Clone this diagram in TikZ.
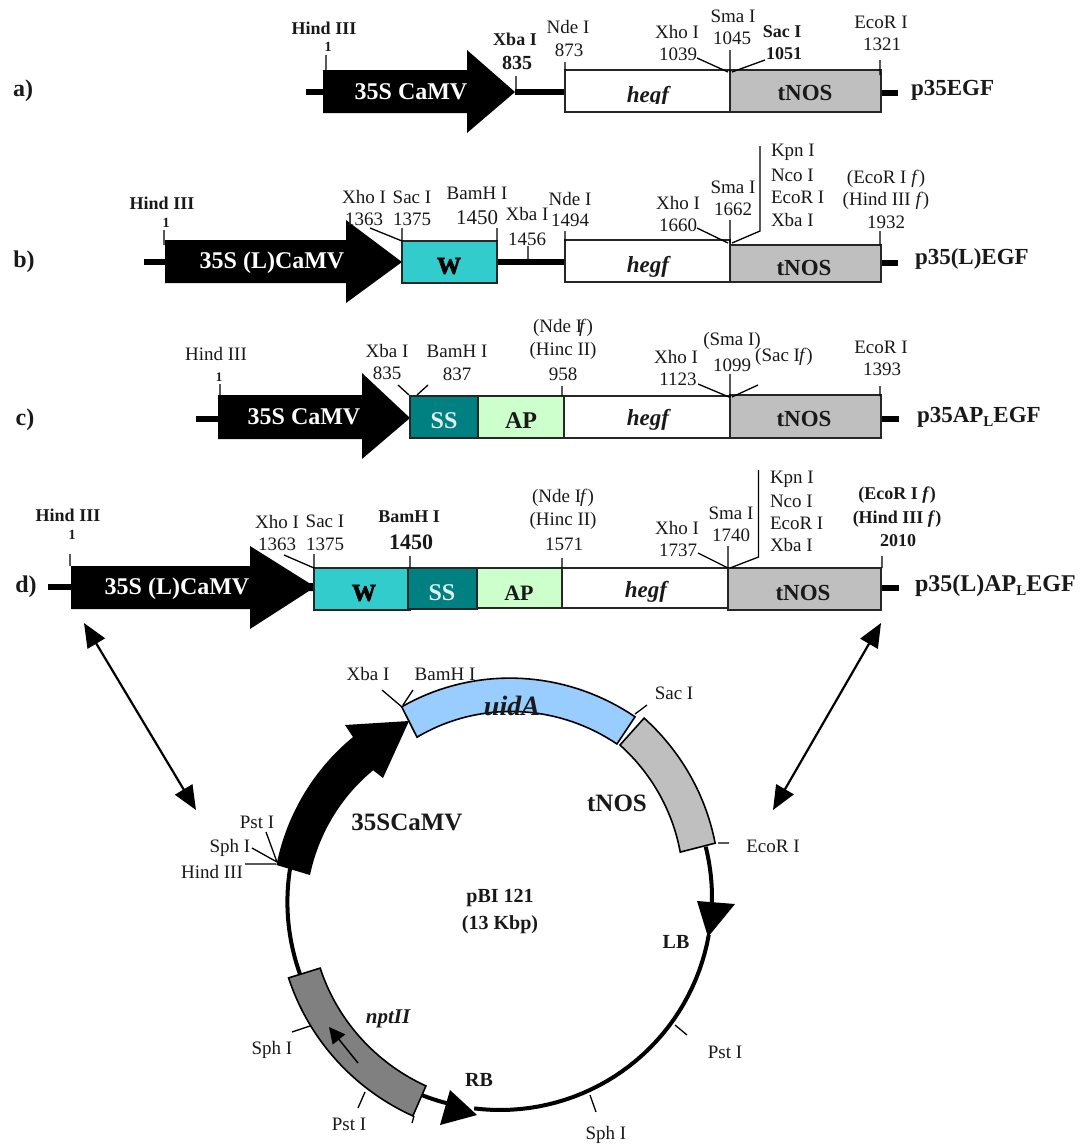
\documentclass[tikz,border=0pt]{standalone}
\usepackage{fontspec}
\setmainfont{Liberation Serif}
\newfontfamily\wfont[FakeBold=3]{Liberation Serif Bold}
\usetikzlibrary{arrows.meta}
\definecolor{wteal}{HTML}{33CCCC}
\definecolor{ssteal}{HTML}{008080}
\definecolor{apgreen}{HTML}{CCFFCC}
\definecolor{nosgrey}{HTML}{BFBFBF}
\definecolor{uidblue}{HTML}{99CCFF}
\definecolor{nptgrey}{HTML}{808080}
\newcounter{labc}
\newcommand{\lab}[4]{\stepcounter{labc}\node[txt] (L\arabic{labc}) at (#1,#2) {\fontsize{#3}{#3}\selectfont #4};}
\newcommand{\labb}[4]{\lab{#1}{#2}{#3}{\bfseries #4}}
\newcommand{\labi}[4]{\lab{#1}{#2}{#3}{\bfseries\itshape #4}}
\newcommand{\labl}[4]{\stepcounter{labc}\node[txt,anchor=west] (L\arabic{labc}) at (#1,#2) {\fontsize{#3}{#3}\selectfont\bfseries #4};}
\newcommand{\labr}[3]{\stepcounter{labc}\node[txt,anchor=west] (L\arabic{labc}) at (#1,#2) {\fontsize{19}{19}\selectfont #3};}
\newcommand{\hegf}[3]{\begin{scope}\clip (#1-40,#2-20) rectangle (#1+40,#3);\labi{#1}{#2}{23}{hegf}\end{scope}}
\newcommand{\sub}[1]{\raisebox{-4pt}{\fontsize{15}{15}\selectfont #1}}
% arcs round the plasmid centre: angle from, angle to, radius from, radius to
\newcommand{\arcpts}[4]{plot[domain=#1:#2,samples=36] ({500+(#3+(#4-#3)*(\x-(#1))/((#2)-(#1)))*cos(\x)},{898+(#3+(#4-#3)*(\x-(#1))/((#2)-(#1)))*sin(\x)})}
\newcommand{\arcto}[4]{-- plot[domain=#1:#2,samples=36] ({500+(#3+(#4-#3)*(\x-(#1))/((#2)-(#1)))*cos(\x)},{898+(#3+(#4-#3)*(\x-(#1))/((#2)-(#1)))*sin(\x)})}
\tikzset{
  txt/.style={inner sep=0pt,outer sep=0pt,anchor=center,text=black!90},
  tick/.style={draw=black,line width=1.3pt},
  dna/.style={draw=black,line width=6pt},
  gbox/.style={draw=black!85,line width=1.6pt},
  ring/.style={draw=black,line width=4pt},
  dbl/.style={draw=black,line width=2.2pt,{Triangle[length=24pt,width=20pt]}-{Triangle[length=24pt,width=20pt]}}
}
\begin{document}
\begin{tikzpicture}[x=1pt,y=-1pt]
\useasboundingbox (0,0) rectangle (1084,1144);
% ---------- row a
\draw[dna] (306,92) -- (323,92) (515,92) -- (565,92) (881,93) -- (898,93);
\fill[black] (323,70) -- (467,70) -- (467,50) -- (515,92) -- (467,133) -- (467,113) -- (323,113) -- cycle;
\draw[gbox,fill=white] (565,70) rectangle (730,112);
\draw[gbox,fill=nosgrey] (730,70) rectangle (881,112);
\draw[tick] (326,55) -- (326,70) (516,76) -- (516,92) (565,62) -- (565,70)
 (697,58) -- (728,72) (730,50) -- (730,72) (765,60) -- (732,72) (880,60) -- (880,75);
\labb{23}{91}{24}{a)}
\labb{324}{28}{18}{Hind III}
\labb{328}{47}{14}{1}
\labb{515}{39}{18}{Xba I}
\labb{517}{63}{20}{835}
\lab{568}{27}{19}{Nde I}
\lab{569}{50}{19}{873}
\lab{677}{32}{19}{Xho I}
\lab{678}{54}{19}{1039}
\lab{733}{16}{19}{Sma I}
\lab{732}{38}{19}{1045}
\labb{782}{32}{18}{Sac I}
\labb{784}{54}{18}{1051}
\lab{881}{22}{19}{EcoR I}
\lab{882}{44}{19}{1321}
\lab{411}{92}{24}{\bfseries\color{white}35S CaMV}
\hegf{648}{97}{103}
\labb{805}{93}{23}{tNOS}
\labl{911}{90}{23}{p35EGF}
% ---------- row b
\draw[dna] (144,262) -- (165,262) (497,262) -- (565,262) (881,263) -- (898,263);
\fill[black] (165,240) -- (346,240) -- (346,220) -- (402,262) -- (346,303) -- (346,283) -- (165,283) -- cycle;
\draw[gbox,fill=wteal] (402,241) rectangle (497,283);
\draw[gbox,fill=white] (565,240) rectangle (730,282);
\draw[gbox,fill=nosgrey] (730,245) rectangle (881,282);
\draw[tick] (164,230) -- (164,245) (370,228) -- (402,241) (402,228) -- (402,241) (497,228) -- (497,241)
 (528,246) -- (528,262) (565,231) -- (565,241) (697,228) -- (728,243) (730,220) -- (730,243)
 (732,243) -- (760,231) -- (760,146) (880,231) -- (880,245);
\labb{24}{262}{24}{b)}
\labb{162}{203}{18}{Hind III}
\labb{166}{223}{14}{1}
\lab{364}{197}{19}{Xho I}
\lab{364}{219}{19}{1363}
\lab{412}{197}{19}{Sac I}
\lab{412}{219}{19}{1375}
\lab{477}{193}{19}{BamH I}
\lab{477}{218}{21}{1450}
\lab{527}{214}{19}{Xba I}
\lab{527}{239}{19}{1456}
\lab{570}{199}{19}{Nde I}
\lab{570}{220}{19}{1494}
\lab{678}{203}{19}{Xho I}
\lab{678}{225}{19}{1660}
\lab{733}{187}{19}{Sma I}
\lab{733}{209}{19}{1662}
\labr{771}{152}{Kpn I}
\labr{771}{175}{Nco I}
\labr{771}{197}{EcoR I}
\labr{771}{220}{Xba I}
\lab{886}{179}{19}{(EcoR I \textit{f})}
\lab{886}{201}{19}{(Hind III \textit{f})}
\lab{886}{222}{19}{1932}
\lab{272}{263}{24}{\bfseries\color{white}35S (L)CaMV}
\stepcounter{labc}\node[txt,text=black] (Wb) at (449,266) {\fontsize{24}{24}\selectfont\wfont W};
\hegf{648}{267}{277}
\begin{scope}\clip (760,245) rectangle (850,275);\labb{804}{268}{23}{tNOS}\end{scope}
\labl{915}{259}{23}{p35(L)EGF}
% ---------- row c
\draw[dna] (196,419) -- (218,419) (881,419) -- (899,419);
\fill[black] (218,395) -- (362,395) -- (362,373) -- (410,418) -- (362,459) -- (362,439) -- (218,439) -- cycle;
\draw[gbox,fill=ssteal] (410,396) rectangle (478,438);
\draw[gbox,fill=apgreen] (478,396) rectangle (564,438);
\draw[gbox,fill=white] (564,396) rectangle (730,438);
\draw[gbox,fill=nosgrey] (730,395) rectangle (881,438);
\draw[tick] (220,384) -- (220,396) (398,385) -- (409,395) (428,385) -- (417,395) (562,386) -- (562,396)
 (698,384) -- (729,397) (730,374) -- (730,397) (758,385) -- (732,397) (880,386) -- (880,396);
\labb{25}{420}{24}{c)}
\lab{216}{354}{19}{Hind III}
\labb{219}{377}{13}{1}
\lab{387}{351}{19}{Xba I}
\lab{387}{373}{19}{835}
\lab{457}{351}{19}{BamH I}
\lab{457}{374}{19}{837}
\lab{563}{328}{19}{(Nde I\kern-3pt\textit{f})}
\lab{563}{351}{19}{(Hinc II)}
\lab{563}{374}{19}{958}
\lab{676}{357}{19}{Xho I}
\lab{678}{379}{19}{1123}
\lab{732}{341}{19}{(Sma I)}
\lab{732}{365}{19}{1099}
\lab{784}{357}{19}{(Sac I\kern-1pt\textit{f})}
\lab{881}{347}{19}{EcoR I}
\lab{882}{369}{19}{1393}
\lab{304}{417}{24}{\bfseries\color{white}35S CaMV}
\lab{444}{421}{24}{\bfseries\color{white!88!ssteal}SS}
\labb{521}{421}{24}{AP}
\hegf{648}{420}{431}
\labb{804}{419}{23}{tNOS}
\labl{917}{417}{23}{p35AP\sub{L}EGF}
% ---------- row d
\draw[dna] (48,587) -- (71,587) (881,588) -- (899,588);
\fill[black] (71,566) -- (250,566) -- (250,546) -- (309,583) -- (314,583) -- (314,591) -- (309,591) -- (250,629) -- (250,609) -- (71,609) -- cycle;
\draw[gbox,fill=wteal] (314,568) rectangle (410,610);
\draw[gbox,fill=ssteal] (408,568) rectangle (477,609);
\draw[gbox,fill=apgreen] (477,568) rectangle (562,608);
\draw[gbox,fill=white] (562,568) rectangle (728,608);
\draw[gbox,fill=nosgrey] (728,568) rectangle (881,610);
\draw[tick] (70,554) -- (70,566) (284,555) -- (314,568) (314,554) -- (314,568) (410,556) -- (410,568)
 (562,558) -- (562,568) (698,553) -- (728,568) (728,546) -- (728,568)
 (730,568) -- (758.5,557) -- (758.5,470) (882,556) -- (882,568);
\labb{26}{587}{24}{d)}
\labb{68}{515}{18}{Hind III}
\labb{72}{535}{14}{1}
\lab{277}{522}{19}{Xho I}
\lab{277}{544}{19}{1363}
\lab{325}{521}{19}{Sac I}
\lab{325}{544}{19}{1375}
\labb{409}{517}{18}{BamH I}
\labb{411}{542}{22}{1450}
\lab{563}{498}{19}{(Nde I\kern-1pt\textit{f})}
\lab{563}{521}{19}{(Hinc II)}
\lab{564}{544}{19}{1571}
\lab{677}{528}{19}{Xho I}
\lab{678}{550}{19}{1737}
\lab{731}{513}{19}{Sma I}
\lab{731}{535}{19}{1740}
\labr{770}{479}{Kpn I}
\labr{770}{501}{Nco I}
\labr{770}{523}{EcoR I}
\labr{770}{545}{Xba I}
\labb{897}{495}{18}{(EcoR I \textit{f})}
\labb{897}{519}{18}{(Hind III \textit{f})}
\labb{898}{541}{18}{2010}
\lab{177}{589}{24}{\bfseries\color{white}35S (L)CaMV}
\stepcounter{labc}\node[txt,text=black] (Wd) at (364,593) {\fontsize{24}{24}\selectfont\wfont W};
\lab{442}{593}{24}{\bfseries\color{white!88!ssteal}SS}
\labb{519}{593}{22}{AP}
\hegf{646}{592}{602}
\labb{803}{593}{23}{tNOS}
\labl{915}{586}{24}{p35(L)AP\sub{L}EGF}
% ---------- double arrows
\coordinate (dl1) at (84,623);
\coordinate (dl2) at (196,810);
\coordinate (dr1) at (881,623);
\coordinate (dr2) at (773,810);
\draw[dbl] (dl1) -- (dl2);
\draw[dbl] (dr1) -- (dr2);
% ---------- plasmid ring
\draw[ring] \arcpts{-14}{2}{212}{212};
\draw[ring] \arcpts{10}{97}{212}{212};
\draw[ring] \arcpts{102}{112}{212}{212};
\draw[ring] \arcpts{159}{188}{214}{212};
\fill[black] (697,901) -- (735,904) -- (708,937) -- cycle;
\fill[black] (450,1090) -- (477,1115) -- (440,1125) -- cycle;
% 35S arrow
\fill[black] \arcpts{188.4}{227.6}{226}{218}
 -- (345,725) -- (409,721) -- (383,778)
 \arcto{225.2}{186.9}{180}{191.4} -- cycle;
% uidA
\draw[gbox,fill=uidblue,draw=black] \arcpts{-117.2}{-53.3}{215}{226}
 \arcto{-52.8}{-117.3}{193.4}{181} -- cycle;
% tNOS
\draw[gbox,fill=nosgrey,draw=black] \arcpts{-51.3}{-14.3}{230.5}{222}
 \arcto{-14.3}{-51.9}{186}{194.4} -- cycle;
% nptII
\draw[gbox,fill=nptgrey,draw=black] \arcpts{159.3}{111.8}{226}{234.7}
 \arcto{111.5}{158.7}{202}{193} -- cycle;
\coordinate (na1) at (358,1063);
\coordinate (na2) at (329,1027);
\draw[draw=black,line width=1.5pt,-{Triangle[length=16pt,width=16pt]}] (na1) -- (na2);
% ring ticks
\draw[tick] (382,690) -- (402,707) (413,690) -- (403,705) (635,714) -- (647,705)
 (718,843) -- (729,843) (266,832) -- (277,862) (252,848) -- (277,862) (245,864) -- (276,864)
 (675,1025) -- (687,1035) (590,1095) -- (596,1112) (292,1032) -- (310,1026) (358,1108) -- (365,1092) (412,1123) -- (414,1116);
% ring labels
\lab{368}{674}{19}{Xba I}
\lab{445}{674}{19}{BamH I}
\labi{512}{706}{28}{uidA}
\lab{674}{693}{19}{Sac I}
\labb{617}{803}{25}{tNOS}
\lab{773}{846}{19}{EcoR I}
\labb{407}{822}{25}{35SCaMV}
\labb{500}{898}{20}{pBI 121}
\labb{500}{925}{20}{(13 Kbp)}
\labb{676}{942}{20}{LB}
\lab{257}{822}{19}{Pst I}
\lab{230}{848}{19}{Sph I}
\lab{212}{872}{19}{Hind III}
\labi{388}{1019}{21}{nptII}
\lab{272}{1050}{19}{Sph I}
\lab{349}{1124}{19}{Pst I}
\labb{479}{1080}{20}{RB}
\lab{725}{1052}{19}{Pst I}
\lab{606}{1135}{19}{Sph I}
\end{tikzpicture}
\end{document}
